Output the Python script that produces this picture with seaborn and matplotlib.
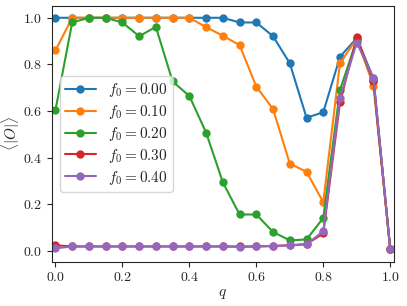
import numpy as np
import pandas as pd
import seaborn as sns
import matplotlib.pyplot as plt

# q grid and order parameter curves for each f0
q = [0.00, 0.05, 0.10, 0.15, 0.20, 0.25, 0.30, 0.35, 0.40, 0.45, 0.50,
     0.55, 0.60, 0.65, 0.70, 0.75, 0.80, 0.85, 0.90, 0.95, 1.00]
f0_labels = ["0.00", "0.10", "0.20", "0.30", "0.40"]

O_f000 = [1.0, 1.0, 1.0, 1.0, 1.0, 1.0, 1.0, 1.0, 1.0, 1.0, 1.0,
          0.98, 0.98, 0.921, 0.805, 0.572, 0.595, 0.833, 0.913, 0.74, 0.01]
O_f010 = [0.86, 1.0, 1.0, 1.0, 1.0, 1.0, 1.0, 1.0, 1.0, 0.96, 0.923,
          0.883, 0.705, 0.609, 0.375, 0.34, 0.21, 0.806, 0.91, 0.708, 0.01]
O_f020 = [0.604, 0.98, 1.0, 1.0, 0.98, 0.921, 0.961, 0.727, 0.665, 0.508, 0.295,
          0.157, 0.157, 0.082, 0.046, 0.05, 0.142, 0.691, 0.905, 0.73, 0.01]
O_f030 = [0.025, 0.02, 0.02, 0.02, 0.02, 0.02, 0.02, 0.02, 0.02, 0.02, 0.02,
          0.02, 0.02, 0.022, 0.025, 0.03, 0.076, 0.638, 0.916, 0.727, 0.01]
O_f040 = [0.012, 0.02, 0.02, 0.02, 0.02, 0.02, 0.02, 0.02, 0.02, 0.02, 0.02,
          0.018, 0.02, 0.022, 0.025, 0.029, 0.085, 0.658, 0.894, 0.741, 0.007]

curves = [O_f000, O_f010, O_f020, O_f030, O_f040]

rows = []
for lab, vals in zip(f0_labels, curves):
    for x, v in zip(q, vals):
        rows.append({"q": x, "O": v, "f0": r"$f_0 = %s$" % lab})
df = pd.DataFrame(rows)

sns.set_style("ticks")
plt.rcParams["font.family"] = ["cmr10", "DejaVu Serif"]
plt.rcParams["mathtext.fontset"] = "cm"
plt.rcParams["axes.formatter.use_mathtext"] = True

fig, ax = plt.subplots(figsize=(4.07, 3.06), dpi=100)
sns.lineplot(data=df, x="q", y="O", hue="f0", palette=sns.color_palette("tab10", 5),
             marker="o", markersize=6, markeredgewidth=0, linewidth=1.5, ax=ax)

ax.set_xlim(-0.01, 1.01)
ax.set_ylim(-0.045, 1.05)
ax.set_xticks([0.0, 0.2, 0.4, 0.6, 0.8, 1.0])
ax.set_yticks([0.0, 0.2, 0.4, 0.6, 0.8, 1.0])
ax.set_xlabel(r"$q$", fontsize=11, labelpad=2)
ax.set_ylabel(r"$\langle |O| \rangle$", fontsize=11)
ax.yaxis.set_label_coords(-0.088, 0.5)
ax.tick_params(labelsize=10)
ax.legend(loc="center left", fontsize=11, frameon=True, labelspacing=0.25,
          borderaxespad=0.5, borderpad=0.35)

fig.subplots_adjust(left=0.128, right=0.967, top=0.98, bottom=0.145)
fig.savefig("out.png")
